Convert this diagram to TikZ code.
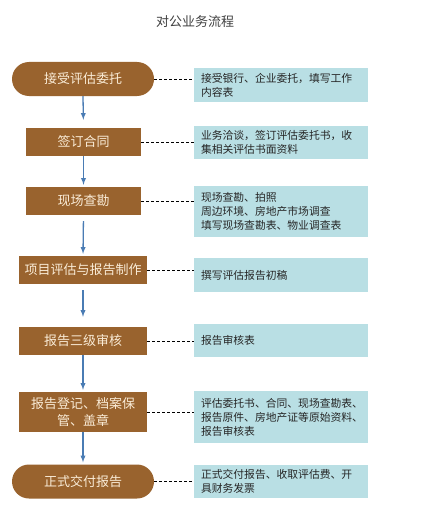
\documentclass[tikz,border=0pt]{standalone}
\usepackage{fontspec}
\setmainfont{Noto Sans CJK SC}
\definecolor{stepbrown}{RGB}{153,99,46}
\definecolor{steptext}{RGB}{250,236,215}
\definecolor{notebg}{RGB}{185,223,228}
\definecolor{arrowblue}{RGB}{74,124,180}

\begin{document}
\begin{tikzpicture}[x=1pt, y=1pt, yscale=-1,
    stepbox/.style={fill=stepbrown, text=steptext, inner sep=0pt, align=center,
        font=\fontsize{13}{17}\selectfont},
    endbox/.style={stepbox, rounded corners=17pt, minimum width=142pt, minimum height=34pt},
    notebox/.style={fill=notebg, inner xsep=7pt, inner ysep=0pt, text width=160pt,
        align=left, text=black!85, font=\fontsize{10.8}{14}\selectfont},
    link/.style={dash pattern=on 3pt off 2pt, thin},
    flow/.style={line width=1.3pt, -latex, color=arrowblue, shorten >=2pt}]
    % page area
    \fill [white] (0, 0) rectangle (429, 511);
    % title
    \node [font=\fontsize{13}{16}\selectfont, text=black!75] (title) at (195, 22) {对公业务流程};
    % steps, left column
    \node [endbox] (accept) at (83, 79) {接受评估委托};
    \node [stepbox, minimum width=115pt, minimum height=28pt] (contract) at (83.5, 142) {签订合同};
    \node [stepbox, minimum width=115pt, minimum height=28pt] (survey) at (83.5, 201) {现场查勘};
    \node [stepbox, minimum width=128pt, minimum height=28pt] (drafting) at (83, 270) {项目评估与报告制作};
    \node [stepbox, minimum width=128pt, minimum height=28pt] (review) at (83, 341) {报告三级审核};
    \node [stepbox, minimum width=128pt, minimum height=40pt] (archive) at (83, 412) {报告登记、档案保\\管、盖章};
    \node [endbox] (deliver) at (83, 481.5) {正式交付报告};
    % notes, right column
    \node [notebox, minimum height=34pt] (acceptnote) at (281, 85) {接受银行、企业委托，填写工作\\内容表};
    \node [notebox, minimum height=33pt] (contractnote) at (281, 142.5) {业务洽谈，签订评估委托书，收\\集相关评估书面资料};
    \node [notebox, minimum height=51pt] (surveynote) at (281, 211.5) {现场查勘、拍照\\周边环境、房地产市场调查\\填写现场查勘表、物业调查表};
    \node [notebox, minimum height=34pt] (draftingnote) at (281, 275) {撰写评估报告初稿};
    \node [notebox, minimum height=33pt] (reviewnote) at (281, 340.5) {报告审核表};
    \node [notebox, minimum height=52pt] (archivenote) at (281, 417) {评估委托书、合同、现场查勘表、\\报告原件、房地产证等原始资料、\\报告审核表};
    \node [notebox, minimum height=33pt] (delivernote) at (281, 481.5) {正式交付报告、收取评估费、开\\具财务发票};
    % dashed links to the notes
    \draw [link] (accept.east) -- (accept.east -| acceptnote.west);
    \draw [link] (contract.east) -- (contract.east -| contractnote.west);
    \draw [link] (survey.east) -- (survey.east -| surveynote.west);
    \draw [link] (drafting.east) -- (drafting.east -| draftingnote.west);
    \draw [link] (review.east) -- (review.east -| reviewnote.west);
    \draw [link] (archive.east) -- (archive.east -| archivenote.west);
    \draw [link] (deliver.east) -- (deliver.east -| delivernote.west);
    % flow arrows
    \draw [flow, shorten >=8pt] (accept.south) -- (contract.north);
    \draw [flow] (contract.south) -- (survey.north);
    \draw [flow, shorten <=6pt] (survey.south) -- (drafting.north);
    \draw [flow, shorten <=6pt, shorten >=10pt] (drafting.south) -- (review.north);
    \draw [flow] (review.south) -- (archive.north);
    \draw [flow] (archive.south) -- (deliver.north);
\end{tikzpicture}
\end{document}
